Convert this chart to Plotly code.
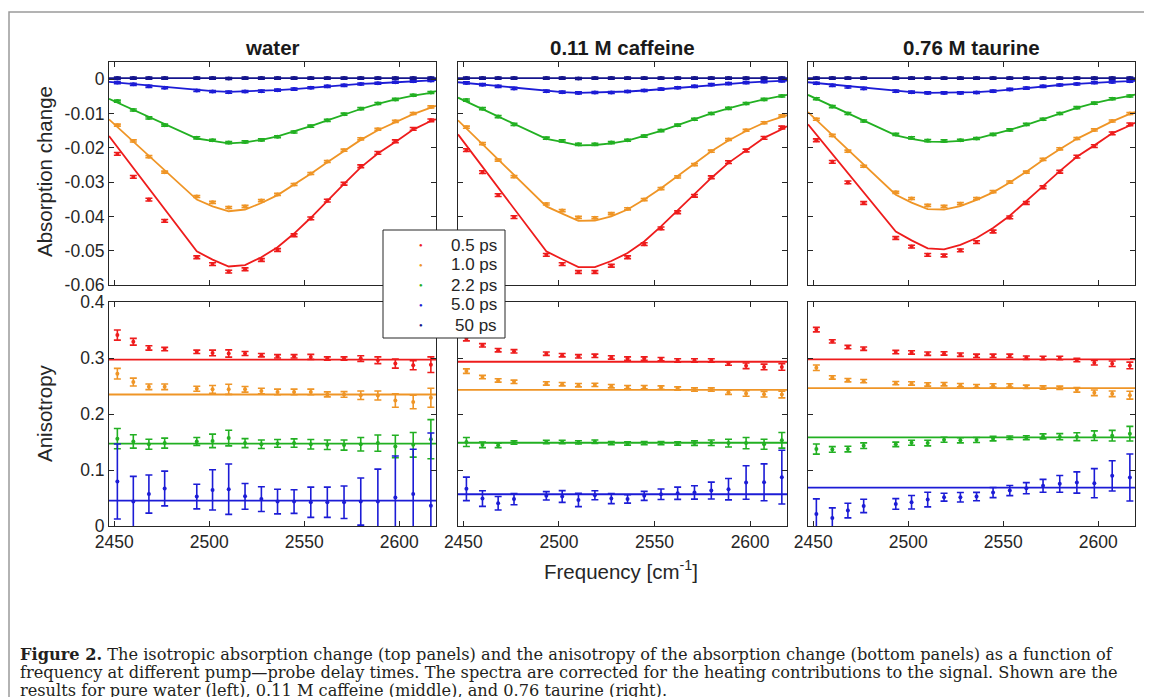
import plotly.graph_objects as go

W, H = 1152, 697

# ---------------- data ----------------
SAMPLES = ["water", "0.11 M caffeine", "0.76 M taurine"]
DELAYS = ["0.5 ps", "1.0 ps", "2.2 ps", "5.0 ps", "50 ps"]
COLORS = ["#ee1c1c", "#ef9526", "#22b022", "#1c1cd6", "#14148c"]

FREQ = [2451.6, 2460.0, 2468.2, 2476.5, 2493.4, 2501.7, 2510.2, 2518.8, 2527.4, 2535.9,
        2544.6, 2553.4, 2562.1, 2570.9, 2579.7, 2588.7, 2597.9, 2607.3, 2616.6]
FIT_FREQ = [2447.2, 2493.4, 2501.7, 2510.2, 2518.8, 2527.4, 2535.9, 2544.6, 2553.4, 2562.1,
            2570.9, 2579.7, 2588.7, 2597.9, 2607.3, 2616.6, 2619.3]
X_RANGE = [2447.2, 2619.3]
X_TICKS = [2450, 2500, 2550, 2600]

ABS_TICKVALS = [0, -0.01, -0.02, -0.03, -0.04, -0.05, -0.06]
ABS_TICKTEXT = ["0", "-0.01", "-0.02", "-0.03", "-0.04", "-0.05", "-0.06"]
ABS_RANGE = [-0.06, 0.005]
ANI_TICKVALS = [0, 0.1, 0.2, 0.3, 0.4]
ANI_TICKTEXT = ["0", "0.1", "0.2", "0.3", "0.4"]
ANI_RANGE = [0, 0.4]

ABS_ERR = [0.0004, 0.0003, 0.0003, 0.0003, 0.0003]

# absorption change, water
ABS_WATER_0P5 = [-0.0218, -0.0285, -0.0351, -0.0413, -0.0519, -0.0539, -0.0561, -0.0554, -0.0527, -0.0498,
                 -0.0455, -0.0406, -0.0354, -0.0305, -0.0254, -0.0215, -0.0181, -0.0145, -0.0120]
ABS_WATER_1P0 = [-0.0134, -0.0180, -0.0226, -0.0271, -0.0342, -0.0359, -0.0374, -0.0371, -0.0354, -0.0336,
                 -0.0307, -0.0275, -0.0240, -0.0207, -0.0174, -0.0146, -0.0123, -0.0100, -0.0081]
ABS_WATER_2P2 = [-0.0064, -0.0090, -0.0113, -0.0134, -0.0171, -0.0178, -0.0185, -0.0183, -0.0177, -0.0168,
                 -0.0154, -0.0137, -0.0120, -0.0102, -0.0086, -0.0071, -0.0059, -0.0047, -0.0039]
ABS_WATER_5P0 = [-0.0010, -0.0015, -0.0021, -0.0025, -0.0033, -0.0036, -0.0038, -0.0036, -0.0035, -0.0032,
                 -0.0029, -0.0025, -0.0021, -0.0018, -0.0014, -0.0012, -0.0009, -0.0006, -0.0004]
ABS_WATER_50 = [0.0003, 0.0003, 0.0003, 0.0003, 0.0003, 0.0003, 0.0002, 0.0003, 0.0003, 0.0003,
                0.0003, 0.0003, 0.0003, 0.0003, 0.0003, 0.0003, 0.0003, 0.0003, 0.0003]
FIT_WATER_0P5 = [-0.0166, -0.0502, -0.0526, -0.0546, -0.0542, -0.0519, -0.0490, -0.0450, -0.0404, -0.0354,
                 -0.0305, -0.0257, -0.0217, -0.0183, -0.0147, -0.0122, -0.0117]
FIT_WATER_1P0 = [-0.0117, -0.0351, -0.0371, -0.0385, -0.0380, -0.0361, -0.0338, -0.0308, -0.0276, -0.0242,
                 -0.0209, -0.0177, -0.0149, -0.0125, -0.0102, -0.0083, -0.0078]
FIT_WATER_2P2 = [-0.0057, -0.0173, -0.0180, -0.0187, -0.0184, -0.0177, -0.0167, -0.0153, -0.0137, -0.0120,
                 -0.0103, -0.0087, -0.0072, -0.0059, -0.0048, -0.0040, -0.0035]
FIT_WATER_5P0 = [-0.0008, -0.0032, -0.0035, -0.0037, -0.0036, -0.0034, -0.0032, -0.0029, -0.0025, -0.0021,
                 -0.0018, -0.0014, -0.0012, -0.0009, -0.0006, -0.0004, -0.0003]
FIT_WATER_50 = [0.0003, 0.0003, 0.0003, 0.0003, 0.0003, 0.0003, 0.0003, 0.0003, 0.0003, 0.0003,
                0.0003, 0.0003, 0.0003, 0.0003, 0.0003, 0.0003, 0.0003]

# absorption change, caffeine
ABS_CAF_0P5 = [-0.0207, -0.0271, -0.0338, -0.0402, -0.0512, -0.0539, -0.0562, -0.0562, -0.0544, -0.0519,
               -0.0481, -0.0435, -0.0388, -0.0340, -0.0286, -0.0242, -0.0208, -0.0171, -0.0141]
ABS_CAF_1P0 = [-0.0140, -0.0188, -0.0236, -0.0284, -0.0364, -0.0383, -0.0403, -0.0404, -0.0392, -0.0378,
               -0.0351, -0.0319, -0.0285, -0.0249, -0.0210, -0.0176, -0.0149, -0.0127, -0.0107]
ABS_CAF_2P2 = [-0.0061, -0.0086, -0.0109, -0.0132, -0.0172, -0.0180, -0.0190, -0.0190, -0.0185, -0.0178,
               -0.0166, -0.0150, -0.0134, -0.0117, -0.0100, -0.0085, -0.0071, -0.0059, -0.0049]
ABS_CAF_5P0 = [-0.0011, -0.0016, -0.0021, -0.0027, -0.0035, -0.0038, -0.0040, -0.0039, -0.0039, -0.0036,
               -0.0033, -0.0029, -0.0025, -0.0021, -0.0016, -0.0013, -0.0010, -0.0007, -0.0005]
ABS_CAF_50 = [0.0003, 0.0003, 0.0003, 0.0003, 0.0003, 0.0003, 0.0002, 0.0003, 0.0003, 0.0003,
              0.0003, 0.0003, 0.0003, 0.0003, 0.0003, 0.0003, 0.0003, 0.0003, 0.0003]
FIT_CAF_0P5 = [-0.0161, -0.0502, -0.0525, -0.0548, -0.0548, -0.0530, -0.0507, -0.0473, -0.0429, -0.0382,
               -0.0337, -0.0288, -0.0244, -0.0207, -0.0171, -0.0146, -0.0137]
FIT_CAF_1P0 = [-0.0120, -0.0371, -0.0392, -0.0413, -0.0412, -0.0400, -0.0380, -0.0351, -0.0318, -0.0283,
               -0.0247, -0.0210, -0.0179, -0.0151, -0.0127, -0.0109, -0.0105]
FIT_CAF_2P2 = [-0.0054, -0.0174, -0.0183, -0.0193, -0.0192, -0.0187, -0.0179, -0.0166, -0.0151, -0.0134,
               -0.0117, -0.0100, -0.0085, -0.0071, -0.0059, -0.0050, -0.0046]
FIT_CAF_5P0 = [-0.0009, -0.0035, -0.0038, -0.0040, -0.0039, -0.0038, -0.0036, -0.0033, -0.0029, -0.0025,
               -0.0021, -0.0017, -0.0013, -0.0010, -0.0007, -0.0005, -0.0004]
FIT_CAF_50 = [0.0003, 0.0003, 0.0003, 0.0003, 0.0003, 0.0003, 0.0003, 0.0003, 0.0003, 0.0003,
              0.0003, 0.0003, 0.0003, 0.0003, 0.0003, 0.0003, 0.0003]

# absorption change, taurine
ABS_TAU_0P5 = [-0.0178, -0.0241, -0.0301, -0.0361, -0.0463, -0.0488, -0.0512, -0.0514, -0.0499, -0.0475,
               -0.0444, -0.0403, -0.0361, -0.0315, -0.0270, -0.0226, -0.0195, -0.0158, -0.0132]
ABS_TAU_1P0 = [-0.0117, -0.0164, -0.0210, -0.0254, -0.0330, -0.0348, -0.0368, -0.0371, -0.0363, -0.0348,
               -0.0328, -0.0300, -0.0271, -0.0234, -0.0203, -0.0173, -0.0148, -0.0122, -0.0100]
ABS_TAU_2P2 = [-0.0057, -0.0080, -0.0100, -0.0122, -0.0161, -0.0171, -0.0179, -0.0180, -0.0178, -0.0173,
               -0.0161, -0.0148, -0.0132, -0.0117, -0.0100, -0.0083, -0.0070, -0.0057, -0.0049]
ABS_TAU_5P0 = [-0.0012, -0.0018, -0.0023, -0.0027, -0.0035, -0.0038, -0.0040, -0.0040, -0.0040, -0.0039,
               -0.0035, -0.0030, -0.0026, -0.0021, -0.0017, -0.0014, -0.0010, -0.0008, -0.0006]
ABS_TAU_50 = [0.0003, 0.0003, 0.0003, 0.0003, 0.0003, 0.0003, 0.0003, 0.0003, 0.0003, 0.0003,
              0.0003, 0.0003, 0.0003, 0.0003, 0.0003, 0.0003, 0.0003, 0.0003, 0.0003]
FIT_TAU_0P5 = [-0.0132, -0.0444, -0.0470, -0.0493, -0.0496, -0.0483, -0.0463, -0.0434, -0.0398, -0.0356,
               -0.0312, -0.0268, -0.0226, -0.0193, -0.0158, -0.0135, -0.0127]
FIT_TAU_1P0 = [-0.0096, -0.0337, -0.0360, -0.0379, -0.0380, -0.0370, -0.0352, -0.0330, -0.0301, -0.0270,
               -0.0236, -0.0204, -0.0174, -0.0148, -0.0123, -0.0101, -0.0096]
FIT_TAU_2P2 = [-0.0046, -0.0164, -0.0174, -0.0182, -0.0183, -0.0180, -0.0173, -0.0161, -0.0148, -0.0133,
               -0.0117, -0.0100, -0.0084, -0.0070, -0.0058, -0.0049, -0.0045]
FIT_TAU_5P0 = [-0.0009, -0.0035, -0.0038, -0.0040, -0.0040, -0.0040, -0.0038, -0.0035, -0.0030, -0.0026,
               -0.0021, -0.0017, -0.0014, -0.0010, -0.0008, -0.0006, -0.0005]
FIT_TAU_50 = [0.0003, 0.0003, 0.0003, 0.0003, 0.0003, 0.0003, 0.0003, 0.0003, 0.0003, 0.0003,
              0.0003, 0.0003, 0.0003, 0.0003, 0.0003, 0.0003, 0.0003]

# anisotropy, water
ANI_WATER_0P5 = [0.341, 0.329, 0.318, 0.316, 0.311, 0.309, 0.308, 0.308, 0.305, 0.303,
                 0.303, 0.302, 0.299, 0.299, 0.299, 0.296, 0.290, 0.287, 0.288]
ERR_WATER_0P5 = [0.009, 0.006, 0.004, 0.003, 0.003, 0.005, 0.0065, 0.0035, 0.003, 0.003,
                 0.003, 0.0045, 0.003, 0.003, 0.005, 0.006, 0.008, 0.008, 0.014]
ANI_WATER_1P0 = [0.272, 0.257, 0.2485, 0.2485, 0.245, 0.244, 0.244, 0.244, 0.241, 0.2395,
                 0.2395, 0.2395, 0.235, 0.235, 0.2335, 0.233, 0.224, 0.2215, 0.229]
ERR_WATER_1P0 = [0.0095, 0.007, 0.005, 0.005, 0.0045, 0.007, 0.009, 0.005, 0.005, 0.005,
                 0.005, 0.005, 0.0045, 0.005, 0.0075, 0.008, 0.012, 0.012, 0.017]
ANI_WATER_2P2 = [0.156, 0.151, 0.146, 0.148, 0.151, 0.152, 0.157, 0.148, 0.146, 0.1475,
                 0.148, 0.146, 0.145, 0.1445, 0.146, 0.148, 0.142, 0.145, 0.155]
ERR_WATER_2P2 = [0.018, 0.012, 0.009, 0.009, 0.007, 0.012, 0.014, 0.008, 0.0075, 0.007,
                 0.0075, 0.0085, 0.0085, 0.009, 0.012, 0.0145, 0.020, 0.022, 0.035]
ANI_WATER_5P0 = [0.0795, 0.0436, 0.057, 0.067, 0.0526, 0.0645, 0.0657, 0.053, 0.048, 0.0436,
                 0.0436, 0.0424, 0.0424, 0.0424, 0.0436, 0.0436, 0.051, 0.057, 0.036]
ERR_WATER_5P0 = [0.067, 0.045, 0.034, 0.031, 0.022, 0.036, 0.045, 0.023, 0.022, 0.022,
                 0.021, 0.027, 0.027, 0.029, 0.042, 0.058, 0.074, 0.080, 0.130]
ANI_FIT_WATER = [0.297, 0.2348, 0.147, 0.0454]

# anisotropy, caffeine
ANI_CAF_0P5 = [0.3345, 0.3226, 0.314, 0.312, 0.3076, 0.305, 0.303, 0.304, 0.301, 0.299,
               0.299, 0.298, 0.2957, 0.2957, 0.2957, 0.290, 0.286, 0.284, 0.284]
ERR_CAF_0P5 = [0.004, 0.003, 0.003, 0.003, 0.003, 0.003, 0.003, 0.003, 0.003, 0.003,
               0.003, 0.003, 0.003, 0.003, 0.003, 0.003, 0.005, 0.005, 0.006]
ANI_CAF_1P0 = [0.2766, 0.266, 0.260, 0.2575, 0.2545, 0.2533, 0.2515, 0.252, 0.2497, 0.248,
               0.248, 0.2473, 0.2455, 0.2437, 0.2437, 0.239, 0.2366, 0.2354, 0.2348]
ERR_CAF_1P0 = [0.004, 0.003, 0.003, 0.003, 0.003, 0.003, 0.003, 0.003, 0.003, 0.003,
               0.003, 0.003, 0.003, 0.003, 0.003, 0.004, 0.005, 0.005, 0.006]
ANI_CAF_2P2 = [0.150, 0.145, 0.144, 0.149, 0.150, 0.150, 0.1493, 0.1505, 0.148, 0.1475,
               0.148, 0.148, 0.1475, 0.148, 0.1487, 0.148, 0.148, 0.146, 0.153]
ERR_CAF_2P2 = [0.008, 0.005, 0.004, 0.003, 0.003, 0.003, 0.003, 0.003, 0.003, 0.003,
               0.003, 0.003, 0.003, 0.004, 0.005, 0.007, 0.010, 0.009, 0.014]
ANI_CAF_5P0 = [0.0663, 0.049, 0.0406, 0.048, 0.0538, 0.0526, 0.0466, 0.055, 0.049, 0.0484,
               0.0538, 0.0567, 0.0585, 0.060, 0.0633, 0.0657, 0.0777, 0.078, 0.0872]
ERR_CAF_5P0 = [0.021, 0.014, 0.012, 0.010, 0.0075, 0.0105, 0.012, 0.008, 0.009, 0.0075,
               0.008, 0.0095, 0.011, 0.012, 0.015, 0.019, 0.030, 0.033, 0.048]
ANI_FIT_CAF = [0.2933, 0.2431, 0.1487, 0.0567]

# anisotropy, taurine
ANI_TAU_0P5 = [0.3507, 0.3297, 0.3196, 0.3166, 0.3106, 0.310, 0.3076, 0.3082, 0.3059, 0.304,
               0.304, 0.304, 0.3005, 0.300, 0.300, 0.2963, 0.2915, 0.2897, 0.2867]
ERR_TAU_0P5 = [0.004, 0.003, 0.003, 0.003, 0.003, 0.003, 0.003, 0.003, 0.003, 0.003,
               0.003, 0.003, 0.003, 0.003, 0.003, 0.003, 0.004, 0.005, 0.006]
ANI_TAU_1P0 = [0.2826, 0.2652, 0.2604, 0.2587, 0.2551, 0.2545, 0.2527, 0.2533, 0.2515, 0.2497,
               0.251, 0.251, 0.2485, 0.2473, 0.2467, 0.2431, 0.2378, 0.236, 0.2336]
ERR_TAU_1P0 = [0.005, 0.003, 0.003, 0.003, 0.003, 0.003, 0.003, 0.003, 0.003, 0.003,
               0.003, 0.003, 0.003, 0.003, 0.003, 0.004, 0.005, 0.005, 0.007]
ANI_TAU_2P2 = [0.1374, 0.1368, 0.1374, 0.1434, 0.1458, 0.1487, 0.148, 0.154, 0.153, 0.1535,
               0.156, 0.1577, 0.1577, 0.160, 0.1595, 0.1595, 0.1613, 0.1613, 0.1649]
ERR_TAU_2P2 = [0.009, 0.005, 0.005, 0.005, 0.004, 0.0045, 0.005, 0.0045, 0.0045, 0.0045,
               0.004, 0.003, 0.0035, 0.0045, 0.0055, 0.007, 0.0085, 0.0095, 0.013]
ANI_TAU_5P0 = [0.0215, 0.0143, 0.0275, 0.0358, 0.0394, 0.0424, 0.0472, 0.0514, 0.0514, 0.0526,
               0.0597, 0.0633, 0.0675, 0.0717, 0.0753, 0.0777, 0.0765, 0.0896, 0.0866]
ERR_TAU_5P0 = [0.027, 0.018, 0.013, 0.012, 0.0095, 0.012, 0.013, 0.007, 0.0085, 0.0075,
               0.009, 0.009, 0.010, 0.0115, 0.015, 0.019, 0.026, 0.027, 0.042]
ANI_FIT_TAU = [0.2975, 0.2461, 0.1583, 0.0687]

ABS_DATA = [
    [ABS_WATER_0P5, ABS_WATER_1P0, ABS_WATER_2P2, ABS_WATER_5P0, ABS_WATER_50],
    [ABS_CAF_0P5, ABS_CAF_1P0, ABS_CAF_2P2, ABS_CAF_5P0, ABS_CAF_50],
    [ABS_TAU_0P5, ABS_TAU_1P0, ABS_TAU_2P2, ABS_TAU_5P0, ABS_TAU_50],
]
ABS_FITS = [
    [FIT_WATER_0P5, FIT_WATER_1P0, FIT_WATER_2P2, FIT_WATER_5P0, FIT_WATER_50],
    [FIT_CAF_0P5, FIT_CAF_1P0, FIT_CAF_2P2, FIT_CAF_5P0, FIT_CAF_50],
    [FIT_TAU_0P5, FIT_TAU_1P0, FIT_TAU_2P2, FIT_TAU_5P0, FIT_TAU_50],
]
ANI_DATA = [
    [ANI_WATER_0P5, ANI_WATER_1P0, ANI_WATER_2P2, ANI_WATER_5P0],
    [ANI_CAF_0P5, ANI_CAF_1P0, ANI_CAF_2P2, ANI_CAF_5P0],
    [ANI_TAU_0P5, ANI_TAU_1P0, ANI_TAU_2P2, ANI_TAU_5P0],
]
ANI_ERRS = [
    [ERR_WATER_0P5, ERR_WATER_1P0, ERR_WATER_2P2, ERR_WATER_5P0],
    [ERR_CAF_0P5, ERR_CAF_1P0, ERR_CAF_2P2, ERR_CAF_5P0],
    [ERR_TAU_0P5, ERR_TAU_1P0, ERR_TAU_2P2, ERR_TAU_5P0],
]
ANI_FITS = [ANI_FIT_WATER, ANI_FIT_CAF, ANI_FIT_TAU]

CAPTION = [
    "<b>Figure 2.</b> The isotropic absorption change (top panels) and the anisotropy of the absorption change (bottom panels) as a function of",
    "frequency at different pump\u2014probe delay times. The spectra are corrected for the heating contributions to the signal. Shown are the",
    "results for pure water (left), 0.11 M caffeine (middle), and 0.76 taurine (right).",
]

# ---------------- layout helpers ----------------
PAGE_OFFSET = 8  # the page body adds an 8px margin around the figure


def px(x):
    return (x - PAGE_OFFSET) / W


def py(y):
    return 1 - (y - PAGE_OFFSET) / H


COL_X = [(109, 436), (458, 787), (808, 1135)]
ROW_Y = [(62, 285), (302, 526)]
AX = "#262626"
SANS = "Liberation Sans, Arial, sans-serif"
SERIF = "DejaVu Serif, Liberation Serif, serif"

fig = go.Figure()

for c in range(3):
    for r in range(2):
        idx = r * 3 + c + 1
        xa = "x" if idx == 1 else f"x{idx}"
        ya = "y" if idx == 1 else f"y{idx}"
        if r == 0:
            for d in range(5):
                fig.add_trace(go.Scatter(
                    x=FIT_FREQ, y=ABS_FITS[c][d], mode="lines",
                    line=dict(color=COLORS[d], width=1.8),
                    xaxis=xa, yaxis=ya, showlegend=False, hoverinfo="skip"))
                fig.add_trace(go.Scatter(
                    x=FREQ, y=ABS_DATA[c][d], mode="markers",
                    marker=dict(color=COLORS[d], size=4),
                    error_y=dict(type="constant", value=ABS_ERR[d], color=COLORS[d],
                                 thickness=1.6, width=3.5),
                    xaxis=xa, yaxis=ya, showlegend=False, name=DELAYS[d]))
        else:
            for d in range(4):
                fig.add_trace(go.Scatter(
                    x=X_RANGE, y=[ANI_FITS[c][d], ANI_FITS[c][d]], mode="lines",
                    line=dict(color=COLORS[d], width=1.8),
                    xaxis=xa, yaxis=ya, showlegend=False, hoverinfo="skip"))
                fig.add_trace(go.Scatter(
                    x=FREQ, y=ANI_DATA[c][d], mode="markers",
                    marker=dict(color=COLORS[d], size=4),
                    error_y=dict(type="data", array=ANI_ERRS[c][d], color=COLORS[d],
                                 thickness=1.6, width=3.5),
                    xaxis=xa, yaxis=ya, showlegend=False, name=DELAYS[d]))

        x0, x1 = COL_X[c]
        yt, yb = ROW_Y[r]
        common = dict(showline=True, linecolor=AX, linewidth=1, mirror="ticks",
                      ticks="inside", ticklen=5, tickcolor=AX, tickwidth=1,
                      showgrid=False, zeroline=False, automargin=False,
                      tickfont=dict(family=SANS, size=17.5, color=AX))
        fig.layout[("xaxis" if idx == 1 else f"xaxis{idx}")] = dict(
            domain=[px(x0), px(x1)], anchor=ya, range=X_RANGE,
            tickvals=X_TICKS, showticklabels=(r == 1), **common)
        fig.layout[("yaxis" if idx == 1 else f"yaxis{idx}")] = dict(
            domain=[py(yb), py(yt)], anchor=xa,
            range=ABS_RANGE if r == 0 else ANI_RANGE,
            tickvals=ABS_TICKVALS if r == 0 else ANI_TICKVALS,
            ticktext=ABS_TICKTEXT if r == 0 else ANI_TICKTEXT,
            showticklabels=(c == 0), **common)

ann = []
# panel titles
for c in range(3):
    x0, x1 = COL_X[c]
    ann.append(dict(text=f"<b>{SAMPLES[c]}</b>", x=px((x0 + x1) / 2), y=py(48),
                    xref="paper", yref="paper", showarrow=False,
                    font=dict(family=SANS, size=20.5, color="#1a1a1a"),
                    xanchor="center", yanchor="middle"))
# axis titles
ann.append(dict(text="Absorption change", x=px(44), y=py(172), textangle=-90,
                xref="paper", yref="paper", showarrow=False,
                font=dict(family=SANS, size=20.5, color=AX), xanchor="center", yanchor="middle"))
ann.append(dict(text="Anisotropy", x=px(44), y=py(413), textangle=-90,
                xref="paper", yref="paper", showarrow=False,
                font=dict(family=SANS, size=20.5, color=AX), xanchor="center", yanchor="middle"))
ann.append(dict(text="Frequency [cm<sup>-1</sup>]", x=px(621), y=py(570),
                xref="paper", yref="paper", showarrow=False,
                font=dict(family=SANS, size=20.5, color=AX), xanchor="center", yanchor="middle"))

# legend (drawn box)
LEG_ROWS = [245, 265, 285, 305, 325]
for d in range(5):
    ann.append(dict(text="\u25cf", x=px(421), y=py(LEG_ROWS[d]), xref="paper", yref="paper",
                    showarrow=False, font=dict(family=SANS, size=6, color=COLORS[d]),
                    xanchor="center", yanchor="middle"))
    ann.append(dict(text=DELAYS[d], x=px(499), y=py(LEG_ROWS[d]), xref="paper", yref="paper",
                    showarrow=False, font=dict(family=SANS, size=17, color=AX),
                    xanchor="right", yanchor="middle"))

# caption
CAP_Y = [654, 672, 690]
for i, line in enumerate(CAPTION):
    ann.append(dict(text=line, x=px(18), y=py(CAP_Y[i]), xref="paper", yref="paper",
                    showarrow=False, font=dict(family=SERIF, size=16.2, color="#231f20"),
                    xanchor="left", yanchor="middle"))

shapes = [
    dict(type="rect", xref="paper", yref="paper", x0=px(9), x1=px(1170), y0=py(12), y1=py(720),
         line=dict(color="#9a9a9a", width=1.5), fillcolor="rgba(0,0,0,0)", layer="below"),
    dict(type="rect", xref="paper", yref="paper", x0=px(383), x1=px(505), y0=py(338), y1=py(230),
         line=dict(color=AX, width=1), fillcolor="white", layer="above"),
]

fig.update_layout(
    width=W, height=H, margin=dict(l=0, r=0, t=0, b=0),
    paper_bgcolor="white", plot_bgcolor="white",
    annotations=ann, shapes=shapes, showlegend=False,
)

fig.write_html("out.html")
